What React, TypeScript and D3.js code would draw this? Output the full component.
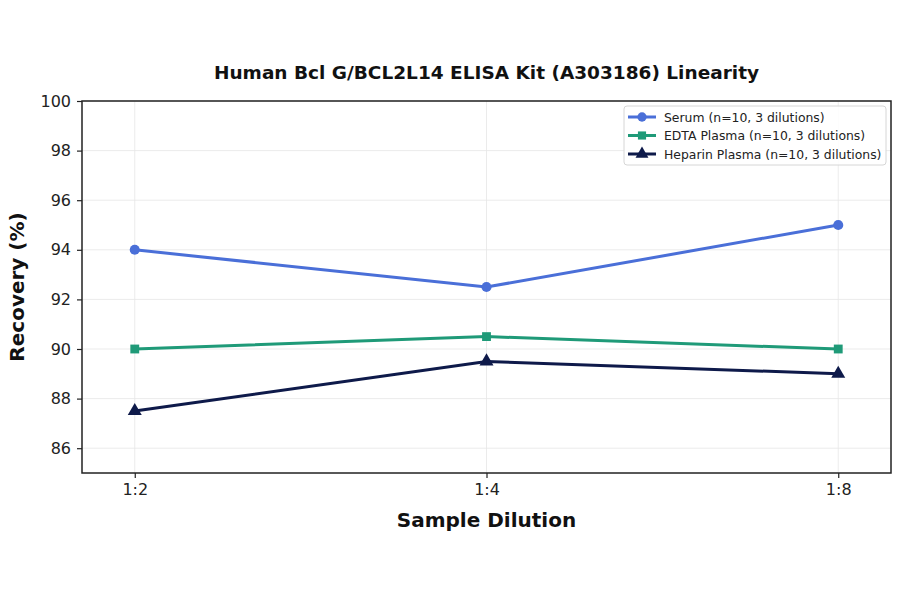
import { useEffect, useRef } from "react"
import * as d3 from "d3"

const dilutions = ["1:2", "1:4", "1:8"]
const serum = [94, 92.5, 95]
const edta = [90, 90.5, 90]
const heparin = [87.5, 89.5, 89]
const yTicks = [86, 88, 90, 92, 94, 96, 98, 100]

const series = [
  { name: "Serum (n=10, 3 dilutions)", values: serum, color: "#4a6fd8", marker: "circle" },
  { name: "EDTA Plasma (n=10, 3 dilutions)", values: edta, color: "#1f9a78", marker: "square" },
  { name: "Heparin Plasma (n=10, 3 dilutions)", values: heparin, color: "#0e1a4a", marker: "triangle" },
]

const FONT = "DejaVu Sans, sans-serif"

export default function App() {
  const ref = useRef<SVGSVGElement>(null)
  useEffect(() => {
    if (!ref.current) return
    const m = { top: 101, right: 9, bottom: 121, left: 82 }
    const W = 900 - m.left - m.right
    const H = 594 - m.top - m.bottom
    const root = d3.select(ref.current)
    root.selectAll("*").remove()
    root.append("rect").attr("width", 900).attr("height", 594).attr("fill", "#fff")
    const svg = root.append("g").attr("transform", `translate(${m.left},${m.top})`)

    const x = d3.scalePoint().domain(dilutions).range([0, W]).padding(0.15)
    const y = d3.scaleLinear().domain([85, 100]).range([H, 0])

    // grid
    svg.append("g").selectAll("line").data(yTicks).join("line")
      .attr("x1", 0).attr("x2", W).attr("y1", d => y(d)).attr("y2", d => y(d))
      .style("stroke", "#e6e6e6").style("stroke-width", 0.8)
    svg.append("g").selectAll("line").data(dilutions).join("line")
      .attr("x1", d => x(d)!).attr("x2", d => x(d)!).attr("y1", 0).attr("y2", H)
      .style("stroke", "#e6e6e6").style("stroke-width", 0.8)

    // axes
    svg.append("g").attr("transform", `translate(0,${H})`).call(d3.axisBottom(x).tickSize(5).tickPadding(6))
      .call(g => { g.select(".domain").remove(); g.selectAll("line").style("stroke", "#222").style("stroke-width", 1.2); g.selectAll("text").style("fill", "#222").style("font-size", "16px").style("font-family", FONT) })
    svg.append("g").call(d3.axisLeft(y).tickValues(yTicks).tickSize(5).tickPadding(6))
      .call(g => { g.select(".domain").remove(); g.selectAll("line").style("stroke", "#222").style("stroke-width", 1.2); g.selectAll("text").style("fill", "#222").style("font-size", "16px").style("font-family", FONT) })
    svg.append("rect").attr("width", W).attr("height", H).attr("fill", "none")
      .style("stroke", "#222").style("stroke-width", 1.5)

    // lines
    const line = d3.line<number>().x((_, i) => x(dilutions[i])!).y(d => y(d))
    const sym = (k: string) => k === "circle" ? d3.symbolCircle : k === "square" ? d3.symbolSquare : d3.symbolTriangle
    const size = (k: string) => k === "circle" ? 80 : k === "square" ? 78 : 85
    series.forEach(s => {
      svg.append("path").attr("d", line(s.values)).attr("fill", "none")
        .style("stroke", s.color).style("stroke-width", 3)
      svg.append("g").selectAll("path").data(s.values).join("path")
        .attr("transform", (d, i) => `translate(${x(dilutions[i])},${y(d)})`)
        .attr("d", d3.symbol().type(sym(s.marker)).size(size(s.marker))())
        .attr("fill", s.color)
    })

    // legend
    const lg = svg.append("g").attr("transform", `translate(${W - 267},5)`)
    lg.append("rect").attr("width", 262).attr("height", 59).attr("rx", 3)
      .attr("fill", "rgba(255,255,255,0.85)").style("stroke", "#d6d6d6").style("stroke-width", 1)
    series.forEach((s, i) => {
      const gy = 11 + i * 18.5
      const row = lg.append("g").attr("transform", `translate(0,${gy})`)
      row.append("line").attr("x1", 4).attr("x2", 32).attr("y1", 0).attr("y2", 0)
        .style("stroke", s.color).style("stroke-width", 3)
      row.append("path").attr("transform", "translate(18,0)")
        .attr("d", d3.symbol().type(sym(s.marker)).size(size(s.marker) * 0.85)()).attr("fill", s.color)
      row.append("text").attr("x", 40).attr("y", 0).attr("dominant-baseline", "central")
        .style("font-family", FONT).style("font-size", "12.4px").style("fill", "#222").text(s.name)
    })

    // labels
    root.append("text").attr("x", m.left + W / 2).attr("y", 79).attr("text-anchor", "middle")
      .style("font-family", FONT).style("font-size", "18.5px").style("font-weight", "bold").style("fill", "#111")
      .text("Human Bcl G/BCL2L14 ELISA Kit (A303186) Linearity")
    root.append("text").attr("x", m.left + W / 2).attr("y", 527).attr("text-anchor", "middle")
      .style("font-family", FONT).style("font-size", "20px").style("font-weight", "bold").style("fill", "#111")
      .text("Sample Dilution")
    root.append("text").attr("transform", `translate(24,${m.top + H / 2}) rotate(-90)`).attr("text-anchor", "middle")
      .style("font-family", FONT).style("font-size", "20px").style("font-weight", "bold").style("fill", "#111")
      .text("Recovery (%)")
  }, [])
  return <svg ref={ref} width={900} height={594} style={{ display: "block", position: "absolute", left: 0, top: 0 }} />
}
